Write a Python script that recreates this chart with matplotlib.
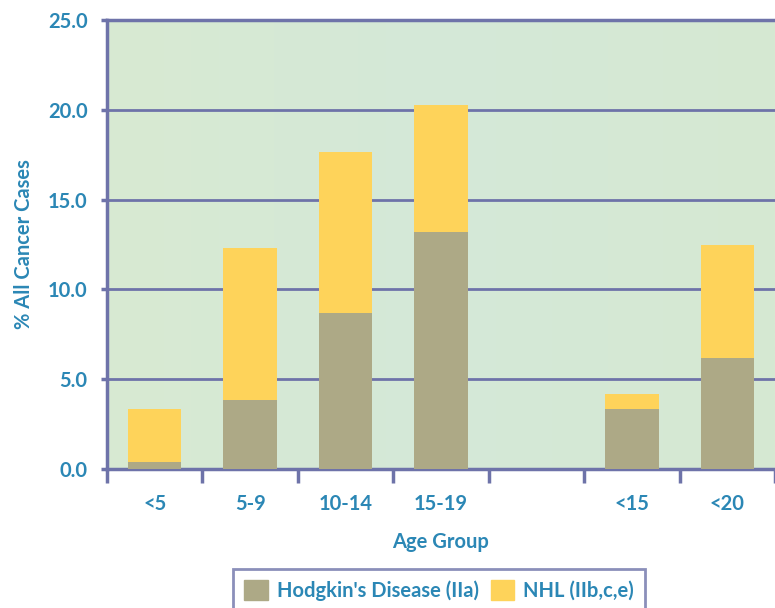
import numpy as np
import matplotlib.pyplot as plt
from matplotlib.patches import Patch
from matplotlib.colors import LinearSegmentedColormap

# data
groups = ['<5', '5-9', '10-14', '15-19', '', '<15', '<20']
hodgkin = [0.4, 3.85, 8.7, 13.2, 0, 3.35, 6.2]
nhl = [2.95, 8.45, 8.95, 7.05, 0, 0.8, 6.25]

blue_txt = '#2b87b5'
frame = '#6e73a9'
c_hd = '#ada986'
c_nhl = '#fed35a'

plt.rcParams['font.family'] = ['Lato', 'DejaVu Sans']
plt.rcParams['font.weight'] = 'bold'
plt.rcParams['axes.labelweight'] = 'bold'

fig = plt.figure(figsize=(7.75, 6.08), dpi=100)
ax = fig.add_axes([107/775, 1 - 469/608, 668/775, 449/608])
ax.set_facecolor('#d6e9d4')

# faint gradient in the plot area
grad = np.linspace(0, 1, 256).reshape(1, -1)
cm = LinearSegmentedColormap.from_list('g', ['#d8ead2', '#d4e8d8', '#d6e9d2'])
ax.imshow(grad, extent=[-0.5, 6.5, 0, 25], aspect='auto', zorder=0, cmap=cm)

x = np.arange(len(groups))
keep = [i for i, g in enumerate(groups) if g]
xs = x[keep]
hd = np.array(hodgkin)[keep]
nh = np.array(nhl)[keep]
ax.bar(xs, hd, width=0.56, color=c_hd, zorder=3)
ax.bar(xs, nh, bottom=hd, width=0.56, color=c_nhl, zorder=3)

ax.set_xlim(-0.5, 6.5)
ax.set_ylim(0, 25)
ax.set_yticks(np.arange(0, 26, 5))
ax.set_yticklabels([f'{v:.1f}' for v in np.arange(0, 26, 5)])
ax.yaxis.grid(True, color=frame, lw=2.0, zorder=2)
ax.set_axisbelow(False)

ax.set_xticks(x)
ax.set_xticklabels(groups)
ax.set_xticks(np.arange(-0.5, 7, 1), minor=True)
ax.tick_params(axis='x', which='major', length=0, pad=18, labelsize=14.5, labelcolor=blue_txt)
ax.tick_params(axis='x', which='minor', length=10, width=2.5, color=frame)
ax.tick_params(axis='y', length=4, width=2.5, color=frame, labelsize=14.5, labelcolor=blue_txt, pad=10)

for s in ['left', 'bottom', 'top']:
    ax.spines[s].set_color(frame)
    ax.spines[s].set_linewidth(2.5)
ax.spines['right'].set_visible(False)

ax.set_xlabel('Age Group', fontsize=14.5, color=blue_txt, labelpad=13)
ax.set_ylabel('% All Cancer Cases', fontsize=14.5, color=blue_txt, labelpad=10)

handles = [Patch(color=c_hd, label="Hodgkin's Disease (IIa)"),
           Patch(color=c_nhl, label='NHL (IIb,c,e)')]
leg = fig.legend(handles=handles, loc='upper center', bbox_to_anchor=(439/775, 1 - 569/608),
                 ncol=2, frameon=True, fancybox=False, fontsize=14.5,
                 handlelength=1.15, handleheight=1.15, handletextpad=0.45,
                 columnspacing=0.6, borderpad=0.55, borderaxespad=0)
leg.get_frame().set_edgecolor(frame)
leg.get_frame().set_linewidth(2)
for t in leg.get_texts():
    t.set_color(blue_txt)

plt.savefig('out.png', dpi=100)
